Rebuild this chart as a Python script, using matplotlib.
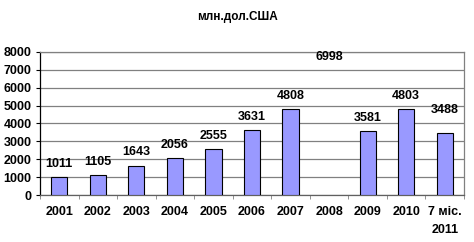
import numpy as np
import matplotlib.pyplot as plt

years = ['2001', '2002', '2003', '2004', '2005', '2006', '2007', '2008', '2009', '2010', '7 міс.\n2011']
values = [1011, 1105, 1643, 2056, 2555, 3631, 4808, 6998, 3581, 4803, 3488]
# 2008 bar is not drawn in the original, only its label
drawn = [True, True, True, True, True, True, True, False, True, True, True]

plt.rcParams['font.family'] = ['Liberation Sans', 'DejaVu Sans']

fig = plt.figure(figsize=(4.74, 2.42), dpi=100)
ax = fig.add_axes([40 / 474, 1 - 195 / 242, 424 / 474, 143 / 242])

x = np.arange(len(years))
xs = [xi for xi, d in zip(x, drawn) if d]
vs = [v for v, d in zip(values, drawn) if d]
ax.bar(xs, vs, width=0.42, color='#9999ff', edgecolor='black', linewidth=0.8, zorder=3)

for i, v in enumerate(values):
    off = 1260 if i == len(values) - 1 else 740
    ax.text(x[i], v + off, str(v), ha='center', va='center', fontsize=9, fontweight='bold', zorder=4)

ax.set_xlim(-0.5, len(years) - 0.5)
ax.set_ylim(0, 8000)
ax.set_yticks(range(0, 8001, 1000))
ax.yaxis.grid(True, color='#808080', linewidth=0.9, zorder=0)
ax.set_axisbelow(True)

ax.set_xticks(x)
ax.set_xticklabels(years, fontsize=9, fontweight='bold', linespacing=1.6)
ax.set_xticks(np.arange(-0.5, len(years), 1), minor=True)
ax.tick_params(axis='x', which='major', length=0, pad=8)
ax.tick_params(axis='x', which='minor', length=3, direction='out', color='#808080')
ax.tick_params(axis='y', length=3, direction='out', labelsize=9, pad=3)
for lbl in ax.get_yticklabels():
    lbl.set_fontweight('bold')

ax.spines['left'].set_color('black')
ax.spines['bottom'].set_color('#606060')
ax.spines['right'].set_color('#808080')
ax.spines['top'].set_color('#808080')
for s in ax.spines.values():
    s.set_linewidth(0.9)

fig.text(0.5, 1 - 17 / 242, 'млн.дол.США', ha='center', va='center', fontsize=8.5, fontweight='bold')

fig.savefig('out.png', dpi=100)
